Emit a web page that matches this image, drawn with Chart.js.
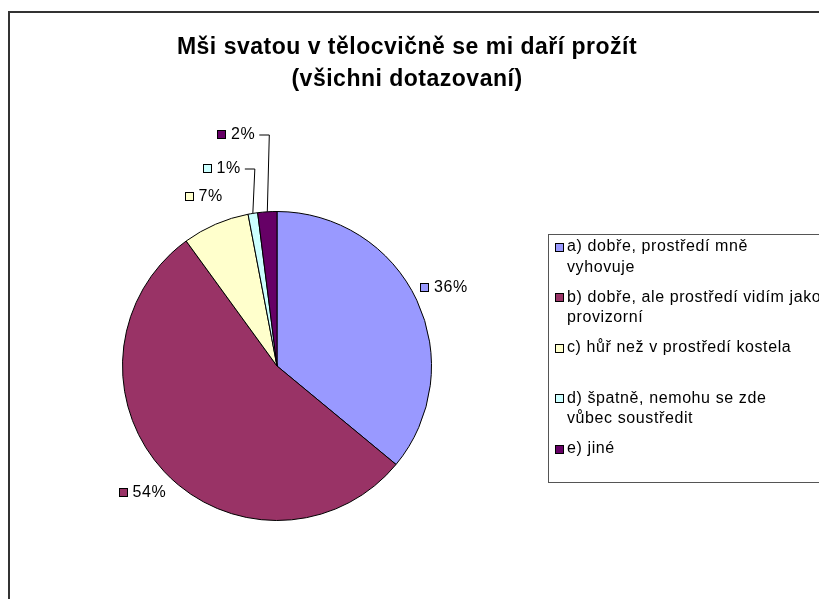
<!DOCTYPE html>
<html>
<head>
<meta charset="utf-8">
<script src="https://cdn.jsdelivr.net/npm/chart.js@4.4.0/dist/chart.umd.min.js"></script>
<style>
  body { margin: 0; background: #fff; }
</style>
</head>
<body>
<canvas id="graf" width="819" height="599"></canvas>
<script>
// data
var titleLines = ['Mši svatou v tělocvičně se mi daří prožít', '(všichni dotazovaní)'];
var categories = [
    ['a) dobře, prostředí mně', 'vyhovuje'],
    ['b) dobře, ale prostředí vidím jako', 'provizorní'],
    ['c) hůř než v prostředí kostela'],
    ['d) špatně, nemohu se zde', 'vůbec soustředit'],
    ['e) jiné']
];
var values = [36, 54, 7, 1, 2];
var colors = ['#9999FF', '#993366', '#FFFFCC', '#CCFFFF', '#660066'];
// small slices get their label lifted above the pie with a leader line
var leaderRise = [0, 0, 0, 43, 77];

var FONT = '"Liberation Sans", Arial, sans-serif';

var deco = {
    id: 'deco',
    beforeDraw: function (chart) {
        var ctx = chart.ctx;
        ctx.save();
        // outer frame (right and bottom fall outside the picture)
        ctx.strokeStyle = '#333';
        ctx.lineWidth = 2;
        ctx.beginPath();
        ctx.moveTo(9, 600);
        ctx.lineTo(9, 12);
        ctx.lineTo(820, 12);
        ctx.stroke();
        // title
        ctx.fillStyle = '#000';
        ctx.font = 'bold 23px ' + FONT;
        ctx.letterSpacing = '0.5px';
        ctx.textAlign = 'center';
        ctx.textBaseline = 'middle';
        ctx.fillText(titleLines[0], 407, 48);
        ctx.fillText(titleLines[1], 407, 80);
        ctx.restore();
    },
    afterDatasetsDraw: function (chart) {
        var ctx = chart.ctx;
        var total = values.reduce(function (a, b) { return a + b; }, 0);
        var meta = chart.getDatasetMeta(0);
        ctx.save();
        ctx.font = '16px ' + FONT;
        ctx.letterSpacing = '0.6px';
        ctx.textBaseline = 'middle';
        ctx.textAlign = 'left';
        meta.data.forEach(function (arc, i) {
            var p = arc.getProps(['x', 'y', 'startAngle', 'endAngle', 'outerRadius'], true);
            var mid = (p.startAngle + p.endAngle) / 2;
            var dx = Math.cos(mid), dy = Math.sin(mid);
            var txt = Math.round(values[i] / total * 100) + '%';
            var bw = 9 + 5 + ctx.measureText(txt).width;
            var left, ly;
            if (leaderRise[i]) {
                var px = p.x + dx * p.outerRadius, py = p.y + dy * p.outerRadius;
                var ex = px + 2, ey = p.y - p.outerRadius - leaderRise[i];
                ctx.strokeStyle = '#000';
                ctx.lineWidth = 1;
                ctx.beginPath();
                ctx.moveTo(px, py);
                ctx.lineTo(ex, ey + 0.5);
                ctx.lineTo(ex - 10, ey + 0.5);
                ctx.stroke();
                left = ex - 14 - bw;
                ly = ey;
            } else {
                var d = p.outerRadius + 30;
                left = p.x + dx * d - bw / 2;
                ly = p.y + dy * d;
            }
            ctx.fillStyle = colors[i];
            ctx.fillRect(Math.round(left) + 0.5, Math.round(ly - 4.5) + 0.5, 8, 8);
            ctx.strokeStyle = '#000';
            ctx.lineWidth = 1;
            ctx.strokeRect(Math.round(left) + 0.5, Math.round(ly - 4.5) + 0.5, 8, 8);
            ctx.fillStyle = '#000';
            ctx.fillText(txt, left + 14, ly);
        });

        // legend box
        ctx.strokeStyle = '#555';
        ctx.lineWidth = 1;
        ctx.strokeRect(548.5, 234.5, 300, 248);
        categories.forEach(function (lines, i) {
            var y0 = 247 + i * 50.5;
            ctx.fillStyle = colors[i];
            ctx.fillRect(555.5, Math.round(y0 - 4.5) + 0.5, 8, 8);
            ctx.strokeStyle = '#000';
            ctx.strokeRect(555.5, Math.round(y0 - 4.5) + 0.5, 8, 8);
            ctx.fillStyle = '#000';
            lines.forEach(function (t, k) {
                ctx.fillText(t, 567, y0 + k * 20.5);
            });
        });
        ctx.restore();
    }
};

var ctx = document.getElementById('graf').getContext('2d');
var myChart = new Chart(ctx, {
    type: 'pie',
    data: {
        labels: categories.map(function (c) { return c.join(' '); }),
        datasets: [{
            data: values,
            backgroundColor: colors,
            borderColor: '#000',
            borderWidth: 1,
            hoverOffset: 0
        }]
    },
    options: {
        responsive: false,
        animation: false,
        events: [],
        layout: { padding: { left: 122, top: 211, right: 387, bottom: 78 } },
        plugins: {
            legend: { display: false },
            title: { display: false },
            tooltip: { enabled: false }
        }
    },
    plugins: [deco]
});
</script>
</body>
</html>
